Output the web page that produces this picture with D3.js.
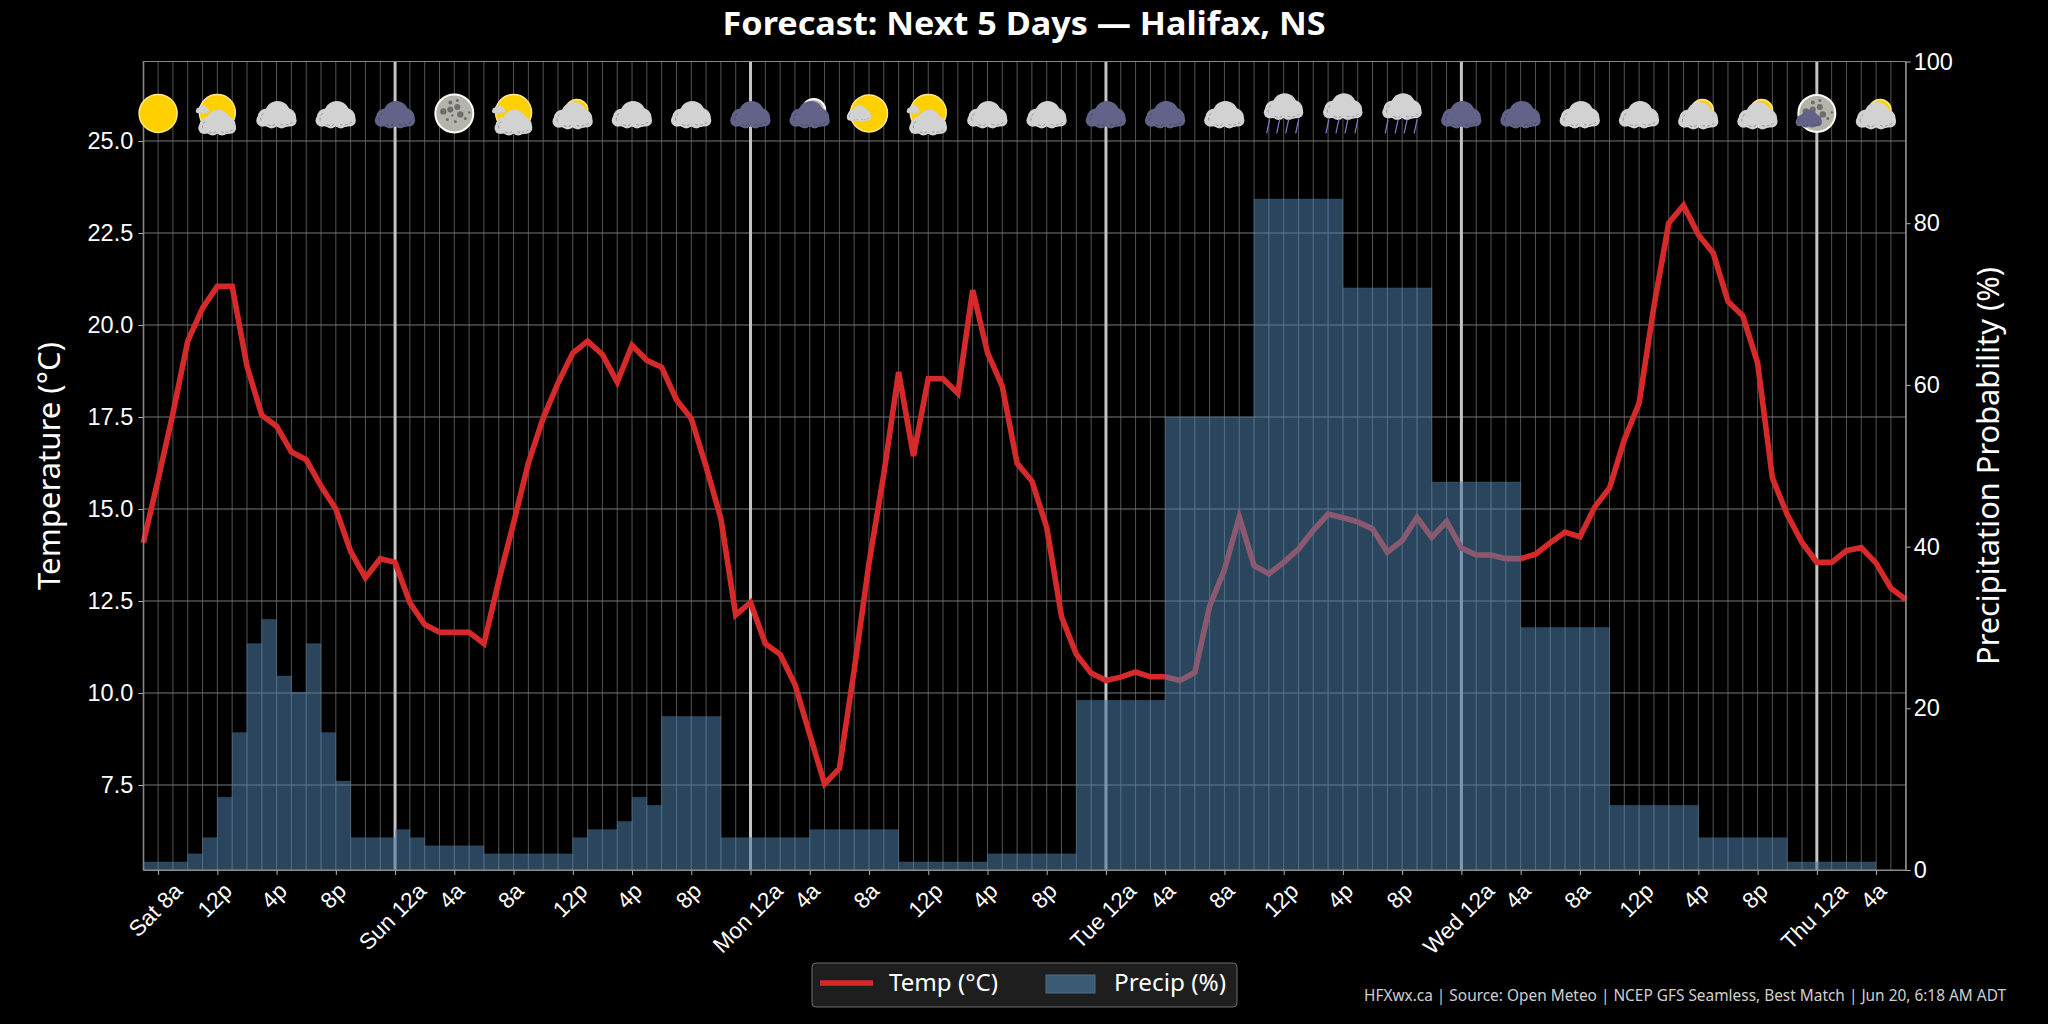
<!DOCTYPE html>
<html>
<head>
<meta charset="utf-8">
<title>Forecast: Next 5 Days — Halifax, NS</title>
<script src="https://cdn.jsdelivr.net/npm/d3@7"></script>
<style>
  html, body { margin: 0; padding: 0; background: #000; }
  svg { display: block; font-family: "Noto Sans", sans-serif; }
</style>
</head>
<body>
<svg id="chart" width="2048" height="1024"></svg>
<script>
// Hourly temperature (°C), first entry is Saturday 7 AM
const temperature = [
  14.08, 15.80, 17.60, 19.56, 20.46, 21.05, 21.05, 18.88, 17.55, 17.25,
  16.55, 16.34, 15.62, 15.00, 13.85, 13.13, 13.65, 13.55, 12.45, 11.86,
  11.65, 11.65, 11.65, 11.34, 13.05, 14.62, 16.25, 17.47, 18.42, 19.24,
  19.56, 19.20, 18.45, 19.45, 19.04, 18.85, 17.97, 17.46, 16.15, 14.74,
  12.12, 12.46, 11.34, 11.05, 10.23, 8.87, 7.53, 7.95, 10.62, 13.53,
  15.95, 18.72, 16.44, 18.54, 18.54, 18.14, 20.95, 19.25, 18.33, 16.24,
  15.76, 14.50, 12.07, 11.05, 10.54, 10.34, 10.43, 10.57, 10.44, 10.44,
  10.34, 10.56, 12.36, 13.35, 14.78, 13.46, 13.24, 13.55, 13.91, 14.42,
  14.86, 14.76, 14.65, 14.46, 13.83, 14.14, 14.77, 14.23, 14.66, 13.94,
  13.75, 13.75, 13.65, 13.65, 13.77, 14.08, 14.37, 14.24, 15.05, 15.57,
  16.88, 17.88, 20.51, 22.77, 23.25, 22.45, 21.96, 20.64, 20.25, 18.97,
  15.84, 14.85, 14.09, 13.55, 13.55, 13.87, 13.95, 13.53, 12.85, 12.54
];

// Hourly probability of precipitation (%)
const precipitation = [
  1, 1, 1, 2, 4, 9, 17, 28, 31, 24,
  22, 28, 17, 11, 4, 4, 4, 5, 4, 3,
  3, 3, 3, 2, 2, 2, 2, 2, 2, 4,
  5, 5, 6, 9, 8, 19, 19, 19, 19, 4,
  4, 4, 4, 4, 4, 5, 5, 5, 5, 5,
  5, 1, 1, 1, 1, 1, 1, 2, 2, 2,
  2, 2, 2, 21, 21, 21, 21, 21, 21, 56,
  56, 56, 56, 56, 56, 83, 83, 83, 83, 83,
  83, 72, 72, 72, 72, 72, 72, 48, 48, 48,
  48, 48, 48, 30, 30, 30, 30, 30, 30, 8,
  8, 8, 8, 8, 8, 4, 4, 4, 4, 4,
  4, 1, 1, 1, 1, 1, 1, 0, 0, 0
];

// Every fourth hour gets a tick label and a condition icon
const tickHours = [1, 5, 9, 13, 17, 21, 25, 29, 33, 37, 41, 45, 49, 53, 57, 61, 65, 69, 73, 77, 81, 85, 89, 93, 97, 101, 105, 109, 113, 117];
const tickLabels = ["Sat 8a", "12p", "4p", "8p", "Sun 12a", "4a", "8a", "12p", "4p", "8p", "Mon 12a", "4a", "8a", "12p", "4p", "8p", "Tue 12a", "4a", "8a", "12p", "4p", "8p", "Wed 12a", "4a", "8a", "12p", "4p", "8p", "Thu 12a", "4a"];
const iconKinds = ["clear", "mostlySunny", "cloud", "cloud", "nightCloud", "moon", "mostlySunny", "partlySunny", "cloud", "cloud", "nightCloud", "nightCrescent", "sunWisp", "mostlySunny", "cloud", "cloud", "nightCloud", "nightCloud", "cloud", "rain", "rain", "rain", "nightCloud", "nightCloud", "cloud", "cloud", "partlySunny", "partlySunny", "moonCloud", "partlySunny"];
const midnightHours = [17, 41, 65, 89, 113];
const tempTicks = [7.5, 10, 12.5, 15, 17.5, 20, 22.5, 25];
const precipTicks = [0, 20, 40, 60, 80, 100];
const allHours = d3.range(temperature.length);

const plot = { left: 143.3, right: 1905.7, top: 61.5, bottom: 870 };
const svg = d3.select("#chart");

const x = d3.scaleLinear().domain([0, temperature.length - 1]).range([plot.left, plot.right]);
const yTemp = d3.scaleLinear().domain([5.19, 27.16]).range([plot.bottom, plot.top]);
const yPrecip = d3.scaleLinear().domain([0, 100]).range([plot.bottom, plot.top]);

// Hourly and temperature grid
svg.append("g").selectAll("line").data(allHours).join("line")
  .attr("x1", d => x(d)).attr("x2", d => x(d))
  .attr("y1", plot.top).attr("y2", plot.bottom)
  .attr("stroke", "#545454").attr("stroke-width", 1);
svg.append("g").selectAll("line").data(tempTicks).join("line")
  .attr("x1", plot.left).attr("x2", plot.right)
  .attr("y1", d => yTemp(d)).attr("y2", d => yTemp(d))
  .attr("stroke", "#787878").attr("stroke-width", 1);

// Midnight separators
svg.append("g").selectAll("line").data(midnightHours).join("line")
  .attr("x1", d => x(d)).attr("x2", d => x(d))
  .attr("y1", plot.top).attr("y2", plot.bottom)
  .attr("stroke", "#c4c4c4").attr("stroke-width", 3);

// Temperature line, sits underneath the translucent precipitation bars
svg.append("path").datum(temperature)
  .attr("fill", "none").attr("stroke", "#d62a2a").attr("stroke-width", 5.6)
  .attr("stroke-linejoin", "miter").attr("stroke-miterlimit", 4)
  .attr("d", d3.line().x((d, i) => x(i)).y(d => yTemp(d)));

// Precipitation bars, each covers the hour that starts at its index
svg.append("clipPath").attr("id", "plot-clip").append("rect")
  .attr("x", plot.left).attr("y", plot.top)
  .attr("width", plot.right - plot.left).attr("height", plot.bottom - plot.top);
svg.append("g").attr("clip-path", "url(#plot-clip)")
  .selectAll("rect").data(precipitation.map((p, i) => ({ p, i })).filter(d => d.p > 0)).join("rect")
  .attr("x", d => x(d.i)).attr("width", d => x(d.i + 1) - x(d.i))
  .attr("y", d => yPrecip(d.p)).attr("height", d => yPrecip(0) - yPrecip(d.p))
  .attr("fill", "#4e7fa7").attr("fill-opacity", 0.55)
  .attr("stroke", "#4e7fa7").attr("stroke-opacity", 0.2).attr("stroke-width", 1);

// Axes
const styleAxis = g => {
  g.selectAll(".domain").attr("stroke", "#8a8a8a").attr("stroke-width", 1);
  g.selectAll(".tick line").attr("stroke", "#b0b0b0").attr("stroke-width", 1);
  g.selectAll("text").attr("fill", "#fff").style("font-size", "23.5px");
};
svg.append("g").attr("transform", `translate(${plot.left},0)`)
  .call(d3.axisLeft(yTemp).tickValues(tempTicks).tickFormat(d3.format(".1f")).tickSize(5).tickPadding(5).tickSizeOuter(0))
  .call(styleAxis);
svg.append("g").attr("transform", `translate(${plot.right},0)`)
  .call(d3.axisRight(yPrecip).tickValues(precipTicks).tickSize(5).tickPadding(3).tickSizeOuter(0))
  .call(styleAxis);
const xAxis = svg.append("g").attr("transform", `translate(0,${plot.bottom})`)
  .call(d3.axisBottom(x).tickValues(tickHours).tickFormat((d, i) => tickLabels[i]).tickSize(5).tickSizeOuter(0))
  .call(styleAxis);
xAxis.selectAll("text").style("font-size", "22.5px").attr("dy", null)
  .attr("text-anchor", "middle").attr("dominant-baseline", "central")
  .each(function () {
    // Rotated 45°, the bounding box stays centred under the tick
    const w = this.getComputedTextLength();
    const half = (w + 24) * Math.SQRT1_2 / 2;
    d3.select(this).attr("y", null)
      .attr("transform", `translate(-3,${8.5 + half}) rotate(-45)`);
  });

// Top and side frame
svg.append("rect").attr("x", plot.left).attr("y", plot.top)
  .attr("width", plot.right - plot.left).attr("height", plot.bottom - plot.top)
  .attr("fill", "none").attr("stroke", "#8a8a8a").attr("stroke-width", 1);

// Condition icons
const greyCloud = "#d2d2d2", nightBlue = "#636389", crater = "#6e6e6e";

function drawCloud(g, cx, cy, scale, fill) {
  const c = g.append("g").attr("transform", `translate(${cx},${cy}) scale(${scale})`);
  [[1, -1, 12.5], [-10, 3, 9], [-14, 6, 6.3], [10, 3, 9.5], [14, 6, 6], [-5, 7, 7], [5, 7, 7]].forEach(([a, b, r]) => {
    c.append("circle").attr("cx", a).attr("cy", b).attr("r", r).attr("fill", fill);
  });
  c.append("path")
    .attr("d", "M-13,-1 a7,7 0 0 0 -2,9 M-9,10 q5,3 8,-1 M4,10 q5,2 12,-2")
    .attr("fill", "none").attr("stroke", "#000").attr("stroke-opacity", 0.3)
    .attr("stroke-width", 0.9).attr("stroke-dasharray", "3 2");
}
function drawSun(g, cx, cy, r) {
  g.append("circle").attr("cx", cx).attr("cy", cy).attr("r", r)
    .attr("fill", "#ffd000").attr("stroke", "#ffe88a").attr("stroke-width", 1.5);
}
function drawMoon(g, cx, cy, r, craters) {
  g.append("circle").attr("cx", cx).attr("cy", cy).attr("r", r)
    .attr("fill", "#b4b4ac").attr("stroke", "#fdfdf2").attr("stroke-width", 2);
  if (!craters) return;
  [[-11, -2, 3.2], [-4, -4, 3], [3, -6.5, 3], [6, 1, 3.2], [-4, -11, 2], [1, 8, 1.5], [-7, 6, 1.5], [-2, 2, 1.2], [11, 5, 1.5], [3, -13, 1.5], [15, -1, 1.2]].forEach(([a, b, r2]) => {
    g.append("circle").attr("cx", cx + a).attr("cy", cy + b).attr("r", r2).attr("fill", crater);
  });
}

const iconDrawers = {
  clear: g => drawSun(g, 0, 0, 19),
  moon: g => drawMoon(g, 0, 0, 19, true),
  cloud: g => drawCloud(g, 0, 1, 1, greyCloud),
  nightCloud: g => drawCloud(g, 0, 1, 1, nightBlue),
  mostlySunny: g => {
    drawSun(g, 0, -1, 18);
    drawCloud(g, 0, 9, 0.94, greyCloud);
    drawCloud(g, -15, -4, 0.32, greyCloud);
  },
  partlySunny: g => {
    drawSun(g, 4, -3, 11);
    drawCloud(g, 0, 2, 1, greyCloud);
  },
  nightCrescent: g => {
    drawMoon(g, 4, -3, 11.5, false);
    drawCloud(g, 0, 1, 1, nightBlue);
  },
  sunWisp: g => {
    drawSun(g, 0, 0, 18.5);
    drawCloud(g, -10, 0, 0.6, greyCloud);
  },
  moonCloud: g => {
    drawMoon(g, 0, 0, 18.5, true);
    drawCloud(g, -8, 5, 0.65, nightBlue);
  },
  rain: g => {
    drawCloud(g, 0, -7, 0.98, greyCloud);
    [-17, -7, 2, 12].forEach(dx => {
      g.append("line").attr("x1", dx + 3).attr("x2", dx).attr("y1", 6).attr("y2", 20)
        .attr("stroke", "#7c7cd0").attr("stroke-width", 1.2);
    });
  }
};
svg.append("g").selectAll("g").data(tickHours).join("g")
  .attr("transform", d => `translate(${x(d)},${yTemp(25.75)})`)
  .each(function (d, i) { iconDrawers[iconKinds[i]](d3.select(this)); });

// Titles
svg.append("text").attr("x", 1024).attr("y", 35).attr("text-anchor", "middle")
  .attr("fill", "#fff").style("font-size", "33px").style("font-weight", 700)
  .attr("textLength", 603).attr("lengthAdjust", "spacingAndGlyphs")
  .text("Forecast: Next 5 Days — Halifax, NS");
svg.append("text").attr("transform", "translate(60,466) rotate(-90)").attr("text-anchor", "middle")
  .attr("fill", "#fff").style("font-size", "31px")
  .attr("textLength", 248).attr("lengthAdjust", "spacingAndGlyphs")
  .text("Temperature (°C)");
svg.append("text").attr("transform", "translate(1999,466) rotate(-90)").attr("text-anchor", "middle")
  .attr("fill", "#fff").style("font-size", "31px")
  .attr("textLength", 398).attr("lengthAdjust", "spacingAndGlyphs")
  .text("Precipitation Probability (%)");

// Legend
const legend = svg.append("g");
legend.append("rect").attr("x", 812).attr("y", 963).attr("width", 425).attr("height", 44).attr("rx", 4)
  .attr("fill", "#1e1e1e").attr("stroke", "#6e6e6e").attr("stroke-width", 1);
legend.append("line").attr("x1", 820).attr("x2", 873).attr("y1", 983).attr("y2", 983)
  .attr("stroke", "#d62a2a").attr("stroke-width", 5.6);
legend.append("text").attr("x", 889).attr("y", 991).attr("fill", "#fff").style("font-size", "23px")
  .attr("textLength", 109).attr("lengthAdjust", "spacingAndGlyphs").text("Temp (°C)");
legend.append("rect").attr("x", 1046).attr("y", 975).attr("width", 49).attr("height", 18)
  .attr("fill", "#3b5a74").attr("stroke", "#4a6e8a").attr("stroke-width", 1);
legend.append("text").attr("x", 1114).attr("y", 991).attr("fill", "#fff").style("font-size", "23px")
  .attr("textLength", 112).attr("lengthAdjust", "spacingAndGlyphs").text("Precip (%)");

// Source line
svg.append("text").attr("x", 2006).attr("y", 1001).attr("text-anchor", "end")
  .attr("fill", "#cfcfcf").style("font-size", "16px")
  .attr("textLength", 642).attr("lengthAdjust", "spacingAndGlyphs")
  .text("HFXwx.ca | Source: Open Meteo | NCEP GFS Seamless, Best Match | Jun 20, 6:18 AM ADT");
</script>
</body>
</html>
